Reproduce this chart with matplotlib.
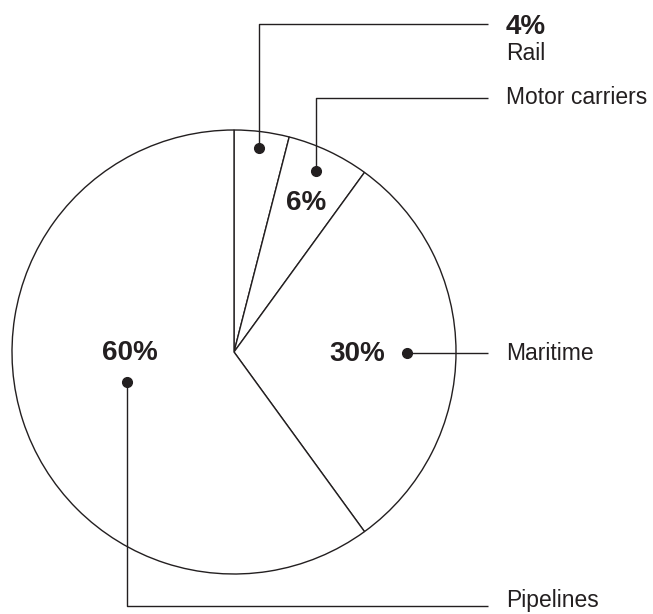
import matplotlib
matplotlib.use("Agg")
import matplotlib.pyplot as plt

# data
categories = ["Rail", "Motor carriers", "Maritime", "Pipelines"]
shares = [4, 6, 30, 60]

INK = "#231f20"
plt.rcParams["font.family"] = ["Liberation Sans", "DejaVu Sans"]

# layout in pixel coordinates of the 653x614 canvas (y downwards)
W, H = 653, 614
center = (234, 352)
radius = 222
pct_pos = {"Motor carriers": (306, 203), "Maritime": (357, 354), "Pipelines": (130, 353)}
dots = {"Rail": (259, 148), "Motor carriers": (316, 171), "Maritime": (407, 353), "Pipelines": (127, 382)}
elbow_y = {"Rail": 24, "Motor carriers": 98, "Maritime": 353, "Pipelines": 606}
name_y = {"Rail": 53, "Motor carriers": 98, "Maritime": 353, "Pipelines": 601}
line_end = 488
text_x = 506

fig = plt.figure(figsize=(W / 100, H / 100), dpi=100)
ax = fig.add_axes([0, 0, 1, 1])

# inverted y axis -> startangle -90 with counterclock=True runs clockwise from the top
ax.pie(shares, startangle=-90, counterclock=True, center=center, radius=radius,
       wedgeprops=dict(facecolor="white", edgecolor=INK, linewidth=1.0))
ax.set_xlim(0, W)
ax.set_ylim(H, 0)
ax.set_aspect("equal")
ax.axis("off")

for cat, val in zip(categories, shares):
    dx, dy = dots[cat]
    ey = elbow_y[cat]
    ax.plot([dx, dx, line_end], [dy, ey, ey], color=INK, lw=1.0, solid_capstyle="butt")
    ax.plot(dx, dy, "o", color=INK, ms=7)
    if cat == "Rail":
        ax.text(text_x, 27, f"{val}%", fontsize=20, fontweight="bold", color=INK,
                ha="left", va="center")
    else:
        px, py = pct_pos[cat]
        ax.text(px, py, f"{val}%", fontsize=20, fontweight="bold", color=INK,
                ha="center", va="center")
    ax.text(text_x, name_y[cat], cat, fontsize=16.5, color=INK, ha="left", va="center")

fig.savefig("out.png", dpi=100, facecolor="white")
